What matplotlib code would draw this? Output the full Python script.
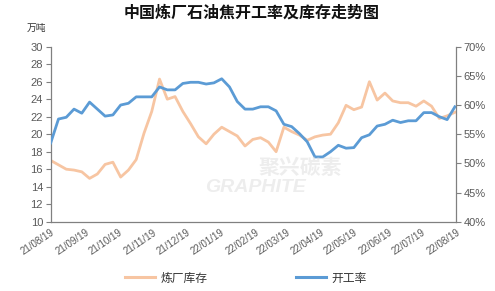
import matplotlib
matplotlib.use("Agg")
import matplotlib.pyplot as plt
import matplotlib.dates as mdates
from matplotlib.ticker import FuncFormatter
import pandas as pd

plt.rcParams['font.family'] = ['Liberation Sans', 'Noto Sans CJK SC', 'DejaVu Sans']

title = "中国炼厂石油焦开工率及库存走势图"
unit_label = "万吨"
series_inventory_name = "炼厂库存"
series_rate_name = "开工率"

start_date = "2021-08-19"
inventory = [17.0, 16.5, 16.0, 15.9, 15.7, 14.95, 15.45, 16.55, 16.8, 15.1,
             15.9, 17.1, 20.1, 22.6, 26.3, 24.0, 24.3, 22.6, 21.2, 19.7,
             18.9, 20.0, 20.8, 20.3, 19.8, 18.65, 19.4, 19.6, 19.1, 18.0,
             20.8, 20.3, 19.9, 19.3, 19.7, 19.9, 20.0, 21.3, 23.3, 22.8,
             23.1, 26.0, 23.9, 24.7, 23.8, 23.6, 23.6, 23.2, 23.8, 23.2,
             21.8, 22.1, 22.5]
rate = [53.5, 57.6, 57.9, 59.3, 58.6, 60.5, 59.3, 58.1, 58.3, 60.0,
        60.3, 61.4, 61.4, 61.4, 63.1, 62.6, 62.6, 63.7, 63.9, 63.9,
        63.6, 63.8, 64.5, 63.1, 60.6, 59.3, 59.3, 59.7, 59.7, 59.0,
        56.7, 56.3, 55.1, 53.7, 51.1, 51.1, 52.0, 53.1, 52.6, 52.7,
        54.4, 54.9, 56.4, 56.7, 57.4, 57.0, 57.3, 57.3, 58.7, 58.7,
        58.0, 57.5, 59.7]
dates = pd.date_range(start_date, periods=len(inventory), freq="7D")
tick_dates = pd.date_range("2021-08-19", "2022-08-19", freq=pd.DateOffset(months=1))

left_ticks = list(range(10, 31, 2))
right_ticks = list(range(40, 71, 5))

c_inv = "#F7C5A2"
c_rate = "#5B9BD5"
axis_c = "#808080"
txt_c = "#595959"

fig = plt.figure(figsize=(4.95, 2.91), dpi=100)
ax = fig.add_axes([50.7/495, 1-221.7/291, (456-50.7)/495, (221.7-46.7)/291])
ax2 = ax.twinx()

ax.plot(dates, inventory, color=c_inv, lw=2.0, solid_joinstyle='round')
ax2.plot(dates, rate, color=c_rate, lw=2.0, solid_joinstyle='round')

ax.set_xlim(tick_dates[0], tick_dates[-1])
ax.set_ylim(10, 30)
ax2.set_ylim(40, 70)
ax.set_yticks(left_ticks)
ax2.set_yticks(right_ticks)
ax2.yaxis.set_major_formatter(FuncFormatter(lambda v, p: f"{int(v)}%"))
ax.set_xticks(tick_dates)
ax.xaxis.set_major_formatter(mdates.DateFormatter("%y/%m/%d"))

for a in (ax, ax2):
    a.spines['top'].set_visible(False)
    for s in ('left', 'right', 'bottom'):
        a.spines[s].set_color(axis_c)
        a.spines[s].set_linewidth(0.9)
ax.spines['right'].set_visible(False)
ax2.spines['left'].set_visible(False)
ax2.spines['bottom'].set_visible(False)

ax.tick_params(axis='y', direction='out', length=3.5, width=0.8, color=axis_c,
               labelsize=8, labelcolor=txt_c, pad=2)
ax2.tick_params(axis='y', direction='out', length=3.5, width=0.8, color=axis_c,
                labelsize=8, labelcolor=txt_c, pad=2)
ax.tick_params(axis='x', length=0, labelsize=7, labelcolor=txt_c, pad=4)
for lbl in ax.get_xticklabels():
    lbl.set_rotation(34)
    lbl.set_ha('right')
    lbl.set_va('top')
    lbl.set_rotation_mode('anchor')

# watermark
fig.text(300/495, 1-168/291, "聚兴碳素", fontsize=15, fontweight='bold', color='#dcdcdc',
         alpha=0.5, ha='center', va='center', family=['Noto Sans CJK SC'])
fig.text(255/495, 1-188/291, "GRAPHITE", fontsize=14, fontweight='bold', style='italic',
         color='#dcdcdc', alpha=0.5, ha='center', va='center')

fig.text(252/495, 1-13/291, title, fontsize=11.5, fontweight='bold', color='#111111',
         ha='center', va='center', family=['Noto Sans CJK SC'])
fig.text(36/495, 1-28/291, unit_label, fontsize=7, color='#333333',
         ha='center', va='center', family=['Noto Sans CJK SC'])

h1, = ax.plot([], [], color=c_inv, lw=2.2)
h2, = ax.plot([], [], color=c_rate, lw=2.2)
fig.legend([h1, h2], [series_inventory_name, series_rate_name], loc='center',
           bbox_to_anchor=(246/495, 1-278/291), ncol=2, frameon=False,
           prop={'family': 'Noto Sans CJK SC', 'size': 8.5}, handlelength=2.5,
           handletextpad=0.5, columnspacing=7.5, labelcolor='#333333')

fig.savefig("out.png", dpi=100)
